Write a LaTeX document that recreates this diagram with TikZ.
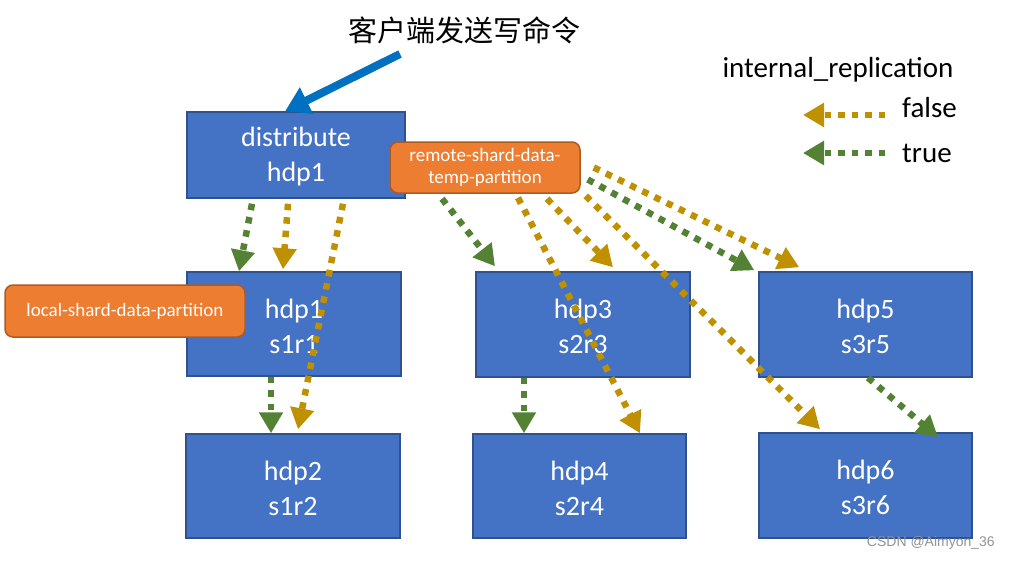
\documentclass[tikz,border=0pt]{standalone}
\usepackage{fontspec}
\setmainfont{Carlito}
\newfontfamily\cjkfont{Noto Sans CJK SC}
\newfontfamily\wmfont{Liberation Sans}
\usetikzlibrary{arrows.meta,calc}
\definecolor{boxblue}{RGB}{68,114,196}
\definecolor{boxedge}{RGB}{47,82,143}
\definecolor{lblorange}{RGB}{237,125,49}
\definecolor{lbledge}{RGB}{174,90,33}
\definecolor{goldc}{RGB}{191,144,0}
\definecolor{leafc}{RGB}{84,130,53}
\definecolor{cmdblue}{RGB}{0,112,192}
\begin{document}
\begin{tikzpicture}[x=1pt,y=-1pt,
  hostbox/.style={draw=boxedge, line width=1.5pt, fill=boxblue, text=white, align=center, inner sep=0pt, font=\fontsize{28}{35}\selectfont},
  tagbox/.style={draw=lbledge, line width=1.5pt, fill=lblorange, text=white, rounded corners=8pt, align=center, inner sep=0pt, font=\fontsize{19}{22}\selectfont},
  falsearr/.style={draw=goldc, line width=6.5pt, dash pattern=on 6.5pt off 7pt, -{Triangle[length=21pt,width=23pt]}},
  truearr/.style={draw=leafc, line width=6.5pt, dash pattern=on 6.5pt off 7pt, -{Triangle[length=21pt,width=23pt]}},
  cmdarr/.style={draw=cmdblue, line width=8pt, -{Triangle[length=24pt,width=28pt]}}
]
\useasboundingbox[fill=white] (0,0) rectangle (1010,560);

% title
\node[font=\cjkfont\fontsize{29}{34}\selectfont] (title) at (464,30) {客户端发送写命令};

% boxes
\node[hostbox, minimum width=218pt, minimum height=86pt] (dist) at (296,155) {};
\node[font=\fontsize{28}{35}\selectfont, text=white, align=center] (distlbl) at (296,157) {distribute\\hdp1};
\node[hostbox, minimum width=214pt, minimum height=104pt] (h1) at (294,324) {};
\node[font=\fontsize{28}{35}\selectfont, text=white, align=center] (h1lbl) at (294,326) {hdp1\\s1r1};
\node[hostbox, minimum width=214pt, minimum height=105pt] (h3) at (583,324.5) {};
\node[font=\fontsize{28}{35}\selectfont, text=white, align=center] (h3lbl) at (583,326) {hdp3\\s2r3};
\node[hostbox, minimum width=213pt, minimum height=105pt] (h5) at (865.5,324.5) {};
\node[font=\fontsize{28}{35}\selectfont, text=white, align=center] (h5lbl) at (865.5,326) {hdp5\\s3r5};
\node[hostbox, minimum width=214pt, minimum height=104pt] (h2) at (293,486) {};
\node[font=\fontsize{28}{35}\selectfont, text=white, align=center] (h2lbl) at (293,488) {hdp2\\s1r2};
\node[hostbox, minimum width=213pt, minimum height=104pt] (h4) at (579.5,486) {};
\node[font=\fontsize{28}{35}\selectfont, text=white, align=center] (h4lbl) at (579.5,488) {hdp4\\s2r4};
\node[hostbox, minimum width=213pt, minimum height=105pt] (h6) at (865.5,485.5) {};
\node[font=\fontsize{28}{35}\selectfont, text=white, align=center] (h6lbl) at (865.5,487.5) {hdp6\\s3r6};

\coordinate (cmdstart) at (400,54);
\draw[cmdarr] (cmdstart) -- ([xshift=-11pt]dist.north);

% remote label
\node[tagbox, minimum width=190pt, minimum height=51pt] (remote) at (485,167.5) {remote-shard-data-\\temp-partition};

% arrows from distribute
\draw[truearr] ([xshift=-44pt,yshift=-5pt]dist.south) -- ([xshift=-55pt]h1.north);
\draw[falsearr] ([xshift=-8pt,yshift=-5pt]dist.south) -- ([xshift=-11pt,yshift=2pt]h1.north);
\draw[falsearr] ([xshift=47pt,yshift=-5pt]dist.south) -- ([xshift=5pt,yshift=4pt]h2.north);
\draw[truearr] ([xshift=-23pt]h1.south) -- ([xshift=-22pt]h2.north);

% arrows from remote label
\draw[truearr] ([xshift=-43pt,yshift=-5pt]remote.south) -- ([xshift=-88pt,yshift=5pt]h3.north);
\draw[falsearr] ([xshift=33pt,yshift=-4pt]remote.south) -- ([xshift=60.5pt]h4.north);
\draw[falsearr] ([xshift=62pt,yshift=-5pt]remote.south) -- ([xshift=30pt,yshift=4pt]h3.north);
\draw[falsearr] ([xshift=5pt,yshift=-2pt]remote.south east) -- ([xshift=-45.5pt,yshift=3pt]h6.north);
\draw[truearr] ([xshift=7pt,yshift=-12pt]remote.east) -- ([xshift=-4pt,yshift=1pt]h5.north west);
\draw[falsearr] ([xshift=13pt]remote.east) -- ([xshift=41pt,yshift=4pt]h5.north west);

\draw[truearr] ([xshift=-59pt]h3.south) -- ([xshift=-55.5pt]h4.north);
\draw[truearr] ([xshift=2.5pt]h5.south) -- ([xshift=72.5pt,yshift=-5pt]h6.north);

% local label
\node[tagbox, minimum width=240pt, minimum height=52pt] (local) at (125,311) {local-shard-data-partition};

% legend
\node[font=\fontsize{29}{34}\selectfont] (legtitle) at (838,70) {internal\_replication};
\node[font=\fontsize{29}{34}\selectfont, anchor=west, inner sep=0pt] (legfalse) at (902,108) {false};
\node[font=\fontsize{29}{34}\selectfont, anchor=west, inner sep=0pt] (legtrue) at (902,153) {true};
\coordinate (fs) at (885,115);
\coordinate (fe) at (803,115);
\coordinate (ts) at (885,153);
\coordinate (te) at (803,153);
\draw[falsearr] (fs) -- (fe);
\draw[truearr] (ts) -- (te);

% watermark
\node[font=\wmfont\fontsize{14}{16}\selectfont, text=gray!85, anchor=east, inner sep=0pt] (wm) at (995,543) {CSDN @Aimyon\_36};
\end{tikzpicture}
\end{document}
